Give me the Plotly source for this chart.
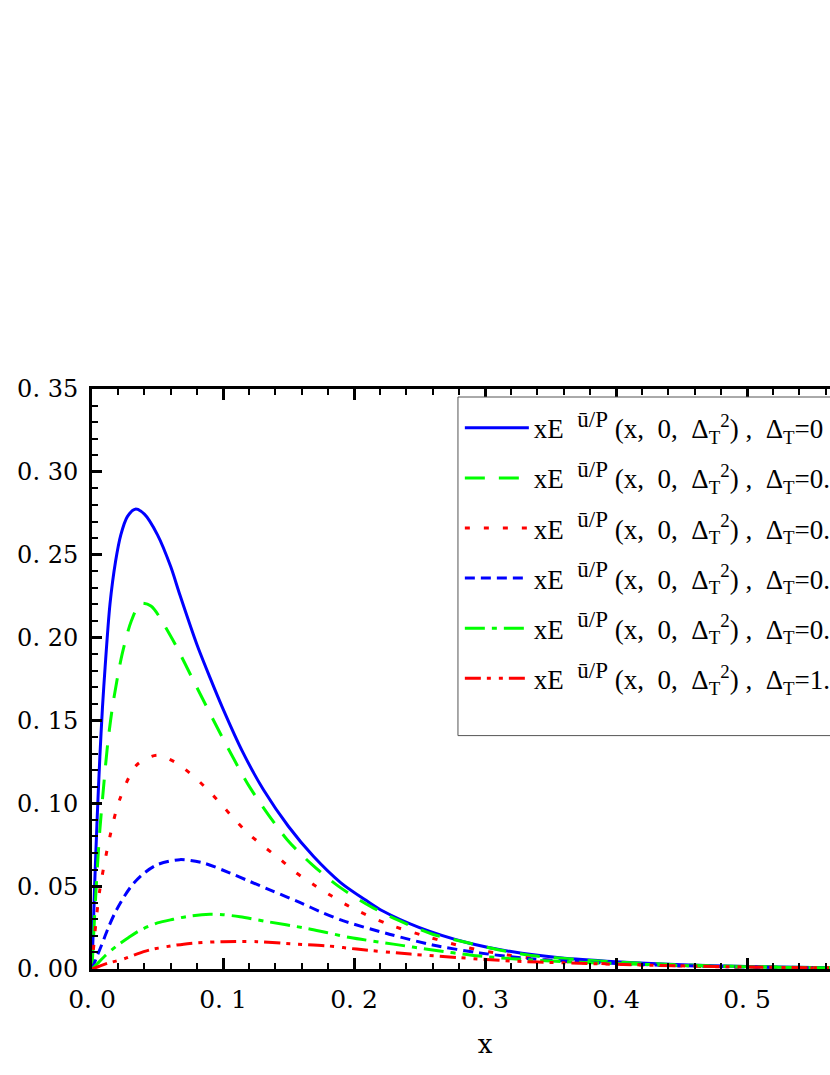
import plotly.graph_objects as go

# ---- data ----
deltas = ["0", "0.2", "0.4", "0.6", "0.8", "1.0"]

x_d0 = [0, 0.002, 0.004, 0.006, 0.008, 0.010, 0.0137, 0.018, 0.022, 0.027, 0.033, 0.04, 0.05, 0.06, 0.067,
        0.08, 0.09, 0.1, 0.115, 0.131, 0.15, 0.169, 0.19, 0.21, 0.222, 0.25, 0.286, 0.32, 0.357, 0.4, 0.45,
        0.5, 0.55, 0.6]
y_d0 = [0, 0.05, 0.092, 0.128, 0.158, 0.182, 0.22, 0.246, 0.262, 0.273, 0.2775, 0.2745, 0.262, 0.243, 0.226,
        0.196, 0.176, 0.157, 0.131, 0.108, 0.086, 0.068, 0.052, 0.041, 0.035, 0.025, 0.016, 0.0105, 0.0068,
        0.0044, 0.0026, 0.0015, 0.0009, 0.0005]

x_d1 = [0, 0.002, 0.004, 0.006, 0.0084, 0.012, 0.016, 0.023, 0.03, 0.037, 0.045, 0.06, 0.08, 0.1, 0.121, 0.149,
        0.168, 0.188, 0.212, 0.235, 0.26, 0.286, 0.311, 0.337, 0.37, 0.4, 0.45, 0.5, 0.55, 0.6]
y_d1 = [0, 0.032, 0.06, 0.084, 0.106, 0.136, 0.16, 0.19, 0.21, 0.2205, 0.219, 0.201, 0.170, 0.139, 0.109, 0.078,
        0.063, 0.050, 0.038, 0.029, 0.021, 0.016, 0.0115, 0.008, 0.0058, 0.0042, 0.0025, 0.0015, 0.0009, 0.0005]

x_d2 = [0, 0.002, 0.006, 0.0137, 0.021, 0.034, 0.0495, 0.063, 0.075, 0.086, 0.098, 0.108, 0.119, 0.131,
        0.144, 0.156, 0.169, 0.183, 0.197, 0.226, 0.256, 0.286, 0.317, 0.34, 0.37, 0.4, 0.45, 0.5, 0.55, 0.6]
y_d2 = [0, 0.02, 0.048, 0.08, 0.102, 0.123, 0.129, 0.125, 0.118, 0.110, 0.100, 0.091, 0.082, 0.074,
        0.066, 0.058, 0.051, 0.044, 0.0375, 0.027, 0.0195, 0.013, 0.0085, 0.006, 0.004, 0.003, 0.0018, 0.001,
        0.0006, 0.0003]

x_d3 = [0, 0.004, 0.0076, 0.0125, 0.0176, 0.024, 0.031, 0.04, 0.05, 0.067, 0.085, 0.105, 0.12, 0.138,
        0.159, 0.176, 0.192, 0.227, 0.26, 0.296, 0.337, 0.37, 0.4, 0.45, 0.5, 0.55, 0.6]
y_d3 = [0, 0.008, 0.015, 0.025, 0.034, 0.043, 0.051, 0.058, 0.063, 0.066, 0.064, 0.058, 0.053, 0.047,
        0.040, 0.034, 0.029, 0.021, 0.0145, 0.0097, 0.006, 0.0045, 0.0033, 0.002, 0.0012, 0.0007, 0.0004]

x_d4 = [0, 0.0038, 0.01, 0.019, 0.028, 0.037, 0.05, 0.062, 0.075, 0.09, 0.1, 0.113, 0.133, 0.164, 0.179,
        0.197, 0.23, 0.26, 0.291, 0.324, 0.36, 0.4, 0.45, 0.5, 0.55, 0.6]
y_d4 = [0, 0.003, 0.008, 0.014, 0.019, 0.0235, 0.0278, 0.030, 0.032, 0.033, 0.0328, 0.0315, 0.0287, 0.0245,
        0.022, 0.019, 0.015, 0.0115, 0.0082, 0.006, 0.0045, 0.0033, 0.0021, 0.0013, 0.0008, 0.0005]

x_d5 = [0, 0.005, 0.012, 0.024, 0.034, 0.044, 0.057, 0.07, 0.085, 0.1, 0.126, 0.156, 0.179, 0.202, 0.243,
        0.281, 0.321, 0.36, 0.4, 0.45, 0.5, 0.55, 0.6]
y_d5 = [0, 0.0015, 0.0035, 0.006, 0.009, 0.0115, 0.0135, 0.015, 0.016, 0.0165, 0.0165, 0.015, 0.014, 0.012,
        0.009, 0.0068, 0.0048, 0.0037, 0.0028, 0.0019, 0.0012, 0.0008, 0.0005]

xs = [x_d0, x_d1, x_d2, x_d3, x_d4, x_d5]
ys = [y_d0, y_d1, y_d2, y_d3, y_d4, y_d5]

y_tickvals = [0, 0.05, 0.10, 0.15, 0.20, 0.25, 0.30, 0.35]
y_ticktext = ["0. 00", "0. 05", "0. 10", "0. 15", "0. 20", "0. 25", "0. 30", "0. 35"]
x_tickvals = [0, 0.1, 0.2, 0.3, 0.4, 0.5, 0.6]
x_ticktext = ["0. 0", "0. 1", "0. 2", "0. 3", "0. 4", "0. 5", "0. 6"]

colors = ["#0000FF", "#00FF00", "#FF0000", "#0000FF", "#00FF00", "#FF0000"]
dashes = ["solid", "20px,14px", "5px,14px", "10px,6px", "20px,7px,5px,7px", "16px,6px,4px,8px,4px,6px"]

fig = go.Figure()
for i in range(6):
    name = ("xE  <sup><span style='font-size:23px'>ū/P</span></sup> (x,  0,  Δ<sub>T</sub><sup>2</sup>) ,  "
            "Δ<sub>T</sub>=" + deltas[i])
    fig.add_trace(go.Scatter(
        x=xs[i], y=ys[i], mode="lines", name=name, legendgroup=str(i),
        line=dict(color=colors[i], width=3, dash=dashes[i], shape="spline", smoothing=0.8),
    ))

W, H = 1000, 1075
fig.update_layout(
    width=W, height=H,
    margin=dict(l=92, r=W - 878, t=389, b=106),
    paper_bgcolor="white", plot_bgcolor="white",
    font=dict(family="DejaVu Serif", color="black"),
    legend=dict(
        x=0.468, y=0.988, xanchor="left", yanchor="top",
        bgcolor="rgba(0,0,0,0)", borderwidth=0,
        font=dict(family="Liberation Serif", size=27, color="black"),
        tracegroupgap=12, itemwidth=64,
        title=dict(text=" ", font=dict(size=6)),
    ),
    showlegend=True,
    # legend frame (white box with thin grey border, extending past the right edge)
    shapes=[dict(type="rect", xref="paper", yref="paper", x0=0.4656, x1=1.3, y0=0.4024, y1=0.9862,
                 fillcolor="white", line=dict(color="#555555", width=1), layer="above")],
)
fig.update_xaxes(
    range=[0, 0.6], tickvals=x_tickvals, ticktext=x_ticktext,
    ticks="inside", ticklen=11, tickwidth=2.5, tickcolor="black",
    showline=True, linewidth=3, linecolor="black", mirror="ticks",
    showgrid=False, zeroline=False,
    tickfont=dict(family="DejaVu Serif", size=25),
    ticklabelstandoff=6,
    minor=dict(dtick=0.02, ticks="inside", ticklen=6, tickwidth=2, tickcolor="black"),
    title=dict(text="x", font=dict(family="DejaVu Serif", size=26), standoff=22),
)
fig.update_yaxes(
    range=[0, 0.35], tickvals=y_tickvals, ticktext=y_ticktext,
    ticks="inside", ticklen=10, tickwidth=2.5, tickcolor="black",
    showline=True, linewidth=3, linecolor="black", mirror="ticks",
    showgrid=False, zeroline=False,
    tickfont=dict(family="DejaVu Serif", size=24),
    ticklabelstandoff=6,
    minor=dict(dtick=0.01, ticks="inside", ticklen=6, tickwidth=2, tickcolor="black"),
)

fig.write_html("out.html", config={"displayModeBar": False},
               post_script="document.body.style.margin='0';document.body.style.overflow='hidden';")
